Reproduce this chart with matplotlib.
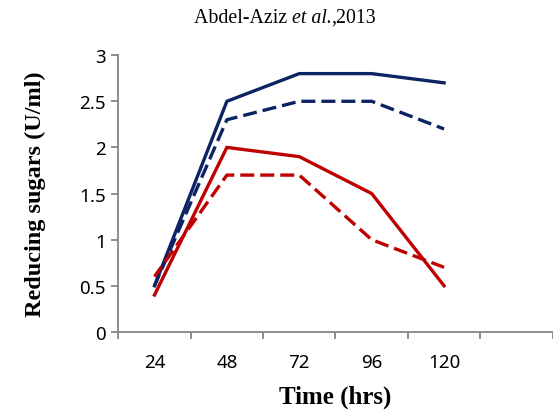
import matplotlib.pyplot as plt
import numpy as np

hours = ['24', '48', '72', '96', '120']
navy_solid = [0.5, 2.5, 2.8, 2.8, 2.7]
navy_dash = [0.5, 2.3, 2.5, 2.5, 2.2]
red_solid = [0.4, 2.0, 1.9, 1.5, 0.5]
red_dash = [0.6, 1.7, 1.7, 1.0, 0.7]

plt.rcParams['font.family'] = ['Noto Sans', 'DejaVu Sans']

fig = plt.figure(figsize=(5.53, 4.10), dpi=100)
ax = fig.add_axes([0.2139, 0.188, 0.7855, 0.675])

x = np.arange(len(hours))
ax.plot(x, navy_solid, '-', color='#0C2364', lw=2.4, solid_joinstyle='miter')
ax.plot(x, navy_dash, color='#0C2364', lw=2.4, linestyle=(0.6, (4.2, 1.8)))
ax.plot(x, red_solid, '-', color='#C00000', lw=2.4, solid_joinstyle='miter')
ax.plot(x, red_dash, color='#C00000', lw=2.4, linestyle=(0.6, (4.2, 1.8)))

ax.set_xlim(-0.5, 5.434)
ax.set_ylim(0, 3)
ax.set_xticks(x)
ax.set_xticklabels(hours)
ax.set_xticks(np.arange(-0.5, 6, 1), minor=True)
ax.set_yticks(np.arange(0, 3.01, 0.5))
ax.set_yticklabels(['0', '0.5', '1', '1.5', '2', '2.5', '3'])
ax.tick_params(axis='x', which='major', length=0, pad=15, labelsize=13.5)
ax.tick_params(axis='x', which='minor', length=5, width=1.3, color='#868686', direction='out')
ax.tick_params(axis='y', length=5, width=1.3, color='#868686', direction='out', pad=4, labelsize=13.5)

for s in ['top', 'right']:
    ax.spines[s].set_visible(False)
for s in ['left', 'bottom']:
    ax.spines[s].set_color('#868686')
    ax.spines[s].set_linewidth(1.3)

ax.set_ylabel('Reducing sugars (U/ml)', family='Liberation Serif', fontweight='bold', fontsize=17.5, labelpad=24)
ax.set_xlabel('Time (hrs)', family='Liberation Serif', fontweight='bold', fontsize=18, labelpad=10)

# title in three pieces so "et al." can be italic
parts = [('Abdel-Aziz ', 'normal'), ('et al.', 'italic'), (',2013', 'normal')]
fig.canvas.draw()
r = fig.canvas.get_renderer()
texts = []
for s, st in parts:
    texts.append(fig.text(0, 0.955, s, family='Liberation Serif', fontsize=14.3, style=st, va='center'))
widths = [t.get_window_extent(r).width for t in texts]
x0 = 285 - sum(widths) / 2
for t, w in zip(texts, widths):
    t.set_x(x0 / 553)
    x0 += w

fig.savefig('out.png', dpi=100)
